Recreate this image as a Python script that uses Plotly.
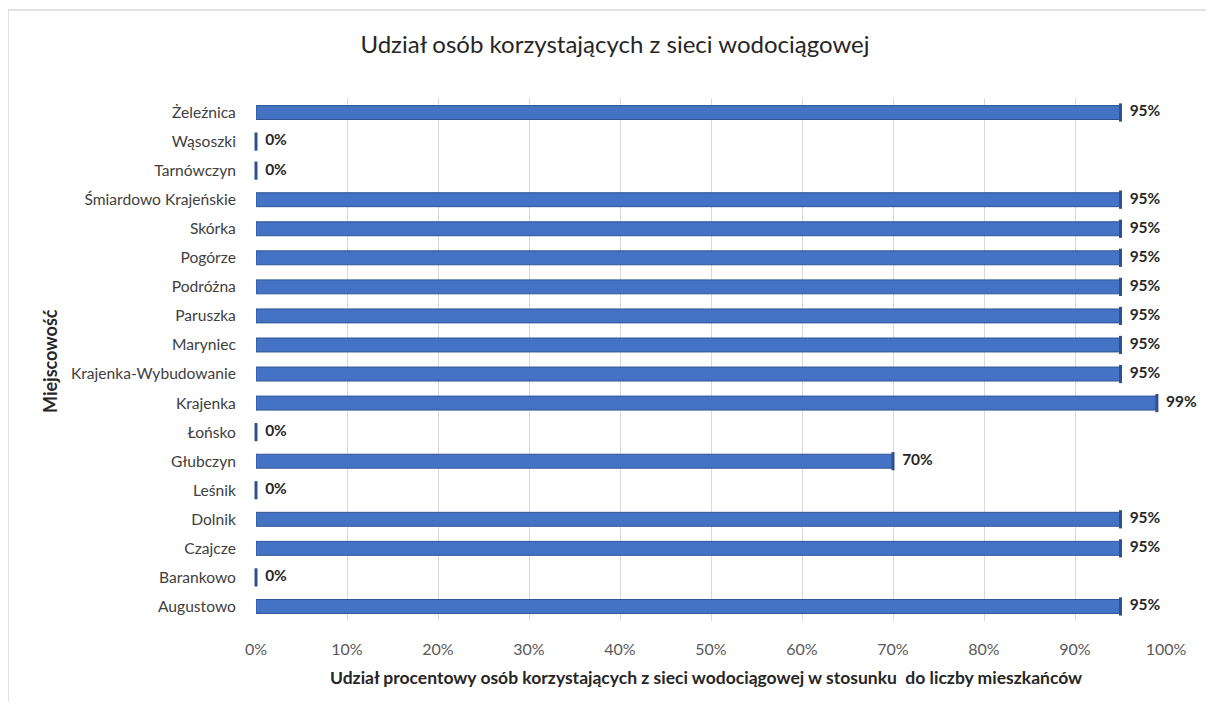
import plotly.graph_objects as go

categories = ["Żeleźnica", "Wąsoszki", "Tarnówczyn", "Śmiardowo Krajeńskie", "Skórka",
              "Pogórze", "Podróżna", "Paruszka", "Maryniec", "Krajenka-Wybudowanie",
              "Krajenka", "Łońsko", "Głubczyn", "Leśnik", "Dolnik", "Czajcze",
              "Barankowo", "Augustowo"]
values = [95, 0, 0, 95, 95, 95, 95, 95, 95, 95, 99, 0, 70, 0, 95, 95, 0, 95]
tick_vals = [0, 10, 20, 30, 40, 50, 60, 70, 80, 90, 100]
tick_text = [f"{v}%" for v in tick_vals]
labels = [f"{v}%" for v in values]

title_text = "Udział osób korzystających z sieci wodociągowej"
x_title = "Udział procentowy osób korzystających z sieci wodociągowej w stosunku  do liczby mieszkańców"
y_title = "Miejscowość"

FONT = "Lato, 'Open Sans', sans-serif"
OFF = 8  # page body margin
W, H = 1214 - 2 * OFF, 710 - 2 * OFF
L = 256 - OFF
R = W - (1166 - OFF)
T = 98 - OFF
B = H - (621 - OFF)
pw, ph = W - L - R, H - T - B


def px(x):
    return (x - OFF - L) / pw


def py(y):
    return ((H - B) - (y - OFF)) / ph


fig = go.Figure()
fig.add_trace(go.Bar(
    y=categories, x=values, orientation="h",
    width=0.48,
    marker=dict(color="#4472C4", line=dict(color="#2F5597", width=1)),
    hoverinfo="x+y",
))
# dark end caps (3D side) + labels
fig.add_trace(go.Scatter(
    y=categories, x=values, mode="markers+text",
    marker=dict(symbol="line-ns-open", size=13, color="#2F4F8F",
                line=dict(color="#2F4F8F", width=3)),
    text=labels, textposition="middle right",
    textfont=dict(family=FONT, size=15.5, color="#262626", weight="bold"),
    cliponaxis=False, hoverinfo="skip",
))

fig.update_layout(
    width=W, height=H,
    margin=dict(l=L, r=R, t=T, b=B),
    paper_bgcolor="white", plot_bgcolor="white",
    showlegend=False,
    title=dict(text=title_text, x=(615 - OFF) / W, xref="container", xanchor="center",
               y=1 - (45 - OFF) / H, yref="container", yanchor="middle",
               font=dict(family=FONT, size=24, color="#262626")),
    font=dict(family=FONT, color="#404040"),
)
fig.update_xaxes(
    range=[0, 100], tickvals=tick_vals, ticktext=tick_text,
    showgrid=True, gridcolor="#d9d9d9", gridwidth=1.3, zeroline=False,
    showline=False, ticks="outside", ticklen=14, tickcolor="rgba(0,0,0,0)",
    tickfont=dict(family=FONT, size=16, color="#595959"),
)
fig.update_yaxes(
    range=[len(categories) - 0.5, -0.5], showgrid=False, showline=False, zeroline=False,
    ticks="outside", ticklen=16, tickcolor="rgba(0,0,0,0)",
    tickfont=dict(family=FONT, size=15.6, color="#404040"),
)
fig.add_annotation(text=x_title, xref="paper", yref="paper",
                   x=px(706), y=py(677), xanchor="center", yanchor="middle",
                   showarrow=False, font=dict(family=FONT, size=17.5, color="#262626", weight="bold"))
fig.add_annotation(text=y_title, xref="paper", yref="paper", textangle=-90,
                   x=px(50), y=py(361), xanchor="center", yanchor="middle",
                   showarrow=False, font=dict(family=FONT, size=18, color="#262626", weight="bold"))
# chart border: only the left and top edges are visible in the reference
border = dict(color="#d9d9d9", width=1.5)
fig.add_shape(type="line", xref="paper", yref="paper",
              x0=px(8), x1=px(8), y0=py(760), y1=py(10), line=border, layer="below")
fig.add_shape(type="line", xref="paper", yref="paper",
              x0=px(8), x1=px(1260), y0=py(10), y1=py(10), line=border, layer="below")

fig.write_html("out.html")
